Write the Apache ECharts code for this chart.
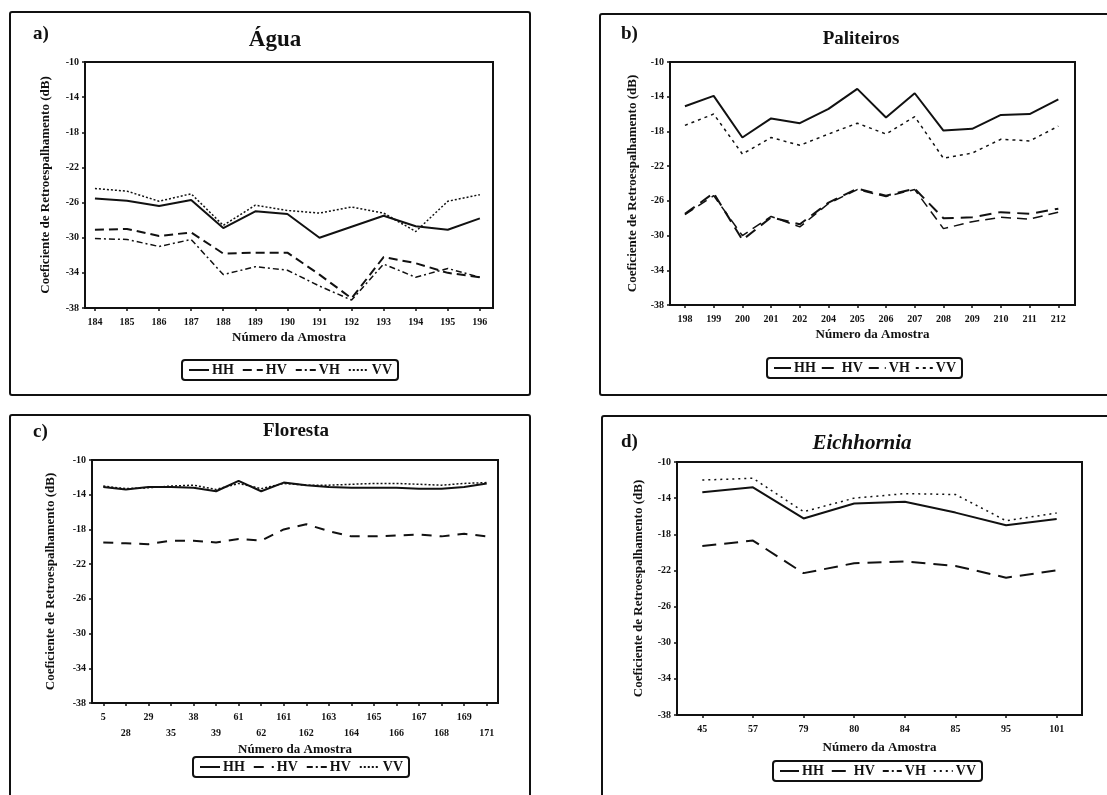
<!DOCTYPE html>
<html>
<head>
<meta charset="utf-8">
<script src="https://cdn.jsdelivr.net/npm/echarts@6/dist/echarts.min.js"></script>
<style>
  html, body { margin: 0; padding: 0; background: #fff; }
  #chart { width: 1107px; height: 795px; }
</style>
</head>
<body>
<div id="chart"></div>
<script>
// a) Água
const catsA = ['184', '185', '186', '187', '188', '189', '190', '191', '192', '193', '194', '195', '196'];
const hhA = [-25.55, -25.8, -26.4, -25.7, -28.9, -27.0, -27.3, -30.0, -28.75, -27.5, -28.7, -29.1, -27.8];
const hvA = [-29.1, -29.0, -29.8, -29.4, -31.8, -31.7, -31.7, -34.2, -36.9, -32.2, -32.9, -34.0, -34.5];
const vhA = [-30.1, -30.2, -31.0, -30.2, -34.2, -33.3, -33.7, -35.5, -37.1, -33.0, -34.5, -33.5, -34.5];
const vvA = [-24.4, -24.7, -25.85, -25.0, -28.6, -26.3, -26.9, -27.2, -26.5, -27.2, -29.3, -25.85, -25.1];

// b) Paliteiros
const catsB = ['198', '199', '200', '201', '202', '204', '205', '206', '207', '208', '209', '210', '211', '212'];
const hhB = [-15.1, -13.9, -18.7, -16.5, -17.05, -15.4, -13.1, -16.4, -13.6, -17.9, -17.7, -16.1, -16.0, -14.3];
const hvB = [-27.5, -25.1, -30.5, -27.9, -28.7, -26.2, -24.6, -25.4, -24.6, -28.0, -27.9, -27.3, -27.5, -26.9];
const vhB = [-27.6, -25.4, -30.0, -27.8, -29.0, -26.3, -24.7, -25.5, -24.7, -29.2, -28.4, -27.9, -28.1, -27.3];
const vvB = [-17.3, -16.0, -20.6, -18.7, -19.6, -18.3, -17.05, -18.3, -16.3, -21.1, -20.5, -18.9, -19.1, -17.4];

// c) Floresta
const catsC = ['5', '28', '29', '35', '38', '39', '61', '62', '161', '162', '163', '164', '165', '166', '167', '168', '169', '171'];
const hhC = [-13.1, -13.4, -13.1, -13.1, -13.2, -13.6, -12.4, -13.6, -12.6, -12.9, -13.1, -13.2, -13.2, -13.2, -13.3, -13.3, -13.1, -12.7];
const hvC = [-19.5, -19.6, -19.7, -19.3, -19.3, -19.5, -19.1, -19.3, -18.0, -17.4, -18.2, -18.8, -18.8, -18.7, -18.6, -18.8, -18.5, -18.8];
const vvC = [-13.0, -13.3, -13.2, -13.0, -12.9, -13.4, -12.7, -13.3, -12.7, -12.9, -12.9, -12.8, -12.7, -12.7, -12.8, -12.9, -12.7, -12.6];

// d) Eichhornia
const catsD = ['45', '57', '79', '80', '84', '85', '95', '101'];
const hhD = [-13.35, -12.8, -16.25, -14.6, -14.4, -15.6, -17.0, -16.3];
const hvD = [-19.3, -18.7, -22.3, -21.2, -21.0, -21.5, -22.8, -22.0];
const vvD = [-12.0, -11.8, -15.5, -14.0, -13.5, -13.6, -16.5, -15.65];

const yTicks = [-38, -34, -30, -26, -22, -18, -14, -10];

const FONT = '"Liberation Serif", "DejaVu Serif", serif';
const INK = '#111';

const chart = echarts.init(document.getElementById('chart'), null, { renderer: 'canvas' });

const grids = [
  { left: 85, top: 62, width: 408, height: 246 },
  { left: 670, top: 62, width: 405, height: 243 },
  { left: 92, top: 460, width: 406, height: 243 },
  { left: 677, top: 462, width: 405, height: 253 }
];

const pairs = arr => arr.map((v, i) => [i, v]);
const idx = cats => cats.map((c, i) => i);

function xAxisFor(gi, cats, min, max, twoRows, nameGap) {
  return {
    type: 'value',
    gridIndex: gi,
    min: min,
    max: max,
    name: 'Número da Amostra',
    nameLocation: 'middle',
    nameGap: nameGap,
    nameTextStyle: { fontFamily: FONT, fontWeight: 'bold', fontSize: 13, color: INK },
    axisLine: { onZero: false, lineStyle: { color: INK, width: 2 } },
    axisTick: { customValues: idx(cats), length: 3, lineStyle: { color: INK, width: 1.5 } },
    axisLabel: {
      customValues: idx(cats),
      fontFamily: FONT,
      fontWeight: 'bold',
      fontSize: 10,
      color: INK,
      margin: 6,
      lineHeight: 16,
      formatter: v => {
        const i = Math.round(v);
        return twoRows && i % 2 ? '\n' + cats[i] : cats[i];
      }
    },
    splitLine: { show: false }
  };
}

function yAxisFor(gi, nameGap) {
  return {
    type: 'value',
    gridIndex: gi,
    min: -38,
    max: -10,
    name: 'Coeficiente de Retroespalhamento (dB)',
    nameLocation: 'middle',
    nameRotate: 90,
    nameGap: nameGap,
    nameTextStyle: { fontFamily: FONT, fontWeight: 'bold', fontSize: 13, color: INK },
    axisLine: { onZero: false, lineStyle: { color: INK, width: 2 } },
    axisTick: { customValues: yTicks, length: 3, lineStyle: { color: INK, width: 1.5 } },
    axisLabel: {
      customValues: yTicks,
      fontFamily: FONT,
      fontWeight: 'bold',
      fontSize: 10,
      color: INK,
      margin: 6
    },
    splitLine: { show: false }
  };
}

const styles = {
  HH: { type: 'solid', width: 2 },
  HV: { type: [9, 5], width: 2 },
  VH: { type: [6, 3, 2, 3], width: 1.5 },
  VV: { type: [2, 2], width: 1.5 }
};

function line(panel, pol, gi, data, lineType) {
  const st = Object.assign({}, styles[pol]);
  if (lineType) st.type = lineType;
  return {
    name: panel + ':' + pol,
    type: 'line',
    xAxisIndex: gi,
    yAxisIndex: gi,
    data: pairs(data),
    symbol: 'none',
    silent: true,
    color: INK,
    itemStyle: { color: INK },
    lineStyle: { color: INK, width: st.width, type: st.type }
  };
}

function legendFor(panel, left, top, rename, gap, iconW) {
  return {
    left: left,
    top: top,
    data: ['HH', 'HV', 'VH', 'VV'].map(p => panel + ':' + p),
    formatter: n => {
      const p = n.split(':')[1];
      return rename && rename[p] ? rename[p] : p;
    },
    orient: 'horizontal',
    itemWidth: iconW || 20,
    itemHeight: 8,
    itemGap: gap || 8,
    padding: [3, 6],
    borderColor: INK,
    borderWidth: 2,
    borderRadius: 3,
    selectedMode: false,
    itemStyle: { opacity: 0 },
    lineStyle: { color: INK },
    textStyle: { fontFamily: FONT, fontWeight: 'bold', fontSize: 14, color: INK, padding: [0, 0, 0, -2] }
  };
}

const titleStyle = { fontFamily: FONT, fontWeight: 'bold', color: INK };

const option = {
  backgroundColor: '#fff',
  animation: false,
  title: [
    { text: 'a)', left: 28, top: 20, textStyle: Object.assign({ fontSize: 19 }, titleStyle) },
    { text: 'Água', left: 270, top: 24, textAlign: 'center', textStyle: Object.assign({ fontSize: 23 }, titleStyle) },
    { text: 'b)', left: 616, top: 20, textStyle: Object.assign({ fontSize: 19 }, titleStyle) },
    { text: 'Paliteiros', left: 856, top: 25, textAlign: 'center', textStyle: Object.assign({ fontSize: 19 }, titleStyle) },
    { text: 'c)', left: 28, top: 418, textStyle: Object.assign({ fontSize: 19 }, titleStyle) },
    { text: 'Floresta', left: 291, top: 417, textAlign: 'center', textStyle: Object.assign({ fontSize: 19 }, titleStyle) },
    { text: 'd)', left: 616, top: 428, textStyle: Object.assign({ fontSize: 19 }, titleStyle) },
    { text: 'Eichhornia', left: 857, top: 428, textAlign: 'center', textStyle: Object.assign({ fontSize: 21, fontStyle: 'italic' }, titleStyle) }
  ],
  grid: grids.map(g => Object.assign({ show: true, borderColor: INK, borderWidth: 2, backgroundColor: 'transparent' }, g)),
  xAxis: [
    xAxisFor(0, catsA, -0.31, 12.41, false, 22),
    xAxisFor(1, catsB, -0.52, 13.58, false, 22),
    xAxisFor(2, catsC, -0.5, 17.5, true, 40),
    xAxisFor(3, catsD, -0.5, 7.5, false, 26)
  ],
  yAxis: [
    yAxisFor(0, 33),
    yAxisFor(1, 31),
    yAxisFor(2, 35),
    yAxisFor(3, 32)
  ],
  legend: [
    legendFor('a', 182, 360),
    legendFor('b', 767, 358, null, 5, 17),
    legendFor('c', 193, 757, { VH: 'HV' }),
    legendFor('d', 773, 761, null, 7, 19)
  ],
  series: [
    line('a', 'HH', 0, hhA),
    line('a', 'HV', 0, hvA),
    line('a', 'VH', 0, vhA),
    line('a', 'VV', 0, vvA),
    line('b', 'HH', 1, hhB),
    line('b', 'HV', 1, hvB, [12, 7]),
    line('b', 'VH', 1, vhB, [10, 6]),
    line('b', 'VV', 1, vvB, [3, 4]),
    line('c', 'HH', 2, hhC),
    line('c', 'HV', 2, hvC, [10, 8]),
    line('c', 'VH', 2, []),
    line('c', 'VV', 2, vvC),
    line('d', 'HH', 3, hhD),
    line('d', 'HV', 3, hvD, [14, 8]),
    line('d', 'VH', 3, []),
    line('d', 'VV', 3, vvD, [2, 4])
  ],
  graphic: [
    // panel frames
    { type: 'rect', shape: { x: 10, y: 12, width: 520, height: 383, r: 2 }, style: { fill: 'none', stroke: INK, lineWidth: 2 }, silent: true },
    { type: 'rect', shape: { x: 600, y: 14, width: 520, height: 381, r: 2 }, style: { fill: 'none', stroke: INK, lineWidth: 2 }, silent: true },
    { type: 'rect', shape: { x: 10, y: 415, width: 520, height: 400, r: 2 }, style: { fill: 'none', stroke: INK, lineWidth: 2 }, silent: true },
    { type: 'rect', shape: { x: 602, y: 416, width: 520, height: 400, r: 2 }, style: { fill: 'none', stroke: INK, lineWidth: 2 }, silent: true }
  ]
};

chart.setOption(option);
</script>
</body>
</html>
